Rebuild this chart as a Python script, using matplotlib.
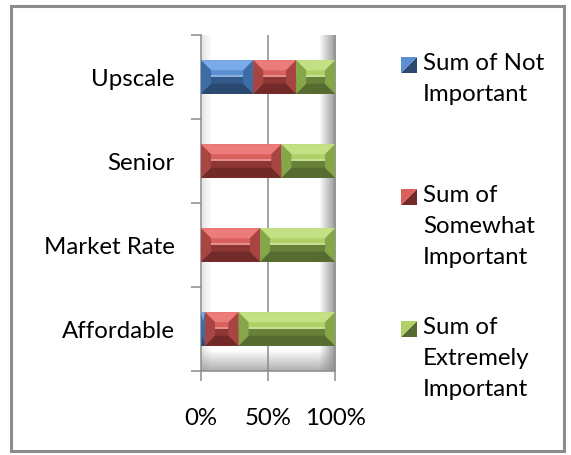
import numpy as np
import matplotlib
matplotlib.use("Agg")
import matplotlib.pyplot as plt
from matplotlib.patches import Polygon, Rectangle

# data (percent share per category)
categories = ["Affordable", "Market Rate", "Senior", "Upscale"]
not_imp = [3, 0, 0, 39]
somewhat_imp = [25, 44, 60, 32]
extremely_imp = [72, 56, 40, 29]
series_names = ["Sum of Not\nImportant",
                "Sum of\nSomewhat\nImportant",
                "Sum of\nExtremely\nImportant"]
x_ticks = [0, 50, 100]
x_ticklabels = ["0%", "50%", "100%"]

# upper face, lower face, top bevel, bottom bevel, side bevel
palette = [("#5B8FD2", "#33598A", "#7AAAE8", "#2A4870", "#3E6CA4"),
           ("#D95F5C", "#8E3634", "#EC7C7A", "#722A28", "#A84543"),
           ("#AFD066", "#67803A", "#C4E084", "#566B30", "#86A64A")]

plt.rcParams["font.family"] = ["Lato", "DejaVu Sans"]
FS = 17.3

W, H = 571, 456
fig = plt.figure(figsize=(W / 100, H / 100), dpi=100)
fig.patch.set_facecolor("white")

# outer chart border
fig.patches.append(Rectangle((11 / W, 1 - 452 / H), 553 / W, 445 / H,
                             transform=fig.transFigure, fill=False,
                             ec="#8C8C8C", lw=2.2))

ax = fig.add_axes([201 / W, 1 - 372 / H, 134 / W, 336 / H])
ax.set_xlim(0, 100)
ax.set_ylim(-0.5, 3.5)


def ramp(shape, axis, a0, a1, grey):
    # grey image whose alpha fades from a0 to a1 along one axis
    n = 64
    a = np.linspace(a0, a1, n)
    img = np.zeros((n, n, 4))
    img[..., :3] = grey
    img[..., 3] = a[None, :] if axis == 1 else a[:, None]
    return img


# 3-D plot-area shading (walls / floor)
ax.imshow(ramp(None, 1, 0.25, 0.0, 0.55), extent=(0, 8, -0.5, 3.5),
          aspect="auto", zorder=0)
ax.imshow(ramp(None, 1, 0.0, 0.75, 0.45), extent=(88, 100, -0.5, 3.5),
          aspect="auto", zorder=0)
ax.imshow(ramp(None, 0, 0.0, 0.7, 0.55), extent=(0, 100, -0.5, -0.26),
          aspect="auto", zorder=0, origin="upper")

for x in x_ticks[1:]:
    ax.axvline(x, color="#8C8C8C", lw=1.1, zorder=1)

ypos = np.arange(len(categories))
bh = 0.40
bx_full, by_full = 7.5, 0.12
left = np.zeros(len(categories))
for vals, (up, low, top, bot, side) in zip([not_imp, somewhat_imp,
                                            extremely_imp], palette):
    vals = np.array(vals, float)
    ax.barh(ypos, vals, height=bh, left=left, color=low, lw=0, zorder=2)
    for yc, l, w in zip(ypos, left, vals):
        if w <= 0:
            continue
        r = l + w
        bx = min(bx_full, w / 2)
        h = bh / 2
        by = by_full
        # upper half of the face is lit
        ax.add_patch(Rectangle((l, yc), w, h, fc=up, ec="none", zorder=2))
        polys = [
            ([(l, yc + h), (r, yc + h), (r - bx, yc + h - by), (l + bx, yc + h - by)], top),
            ([(l, yc - h), (r, yc - h), (r - bx, yc - h + by), (l + bx, yc - h + by)], bot),
            ([(l, yc - h), (l, yc + h), (l + bx, yc + h - by), (l + bx, yc - h + by)], side),
            ([(r, yc - h), (r, yc + h), (r - bx, yc + h - by), (r - bx, yc - h + by)], side),
        ]
        for pts, c in polys:
            ax.add_patch(Polygon(pts, closed=True, fc=c, ec="none", zorder=3))
        # soft highlight across the middle of the face
        ax.add_patch(Rectangle((l + bx, yc - 0.005), max(w - 2 * bx, 0), 0.03,
                               fc="white", alpha=0.3, ec="none", zorder=3))
    left += vals

for s in ["top", "right"]:
    ax.spines[s].set_visible(False)
for s in ["left", "bottom"]:
    ax.spines[s].set_color("#8C8C8C")
    ax.spines[s].set_linewidth(1.1)

ax.set_yticks(ypos)
ax.set_yticklabels(categories, fontsize=FS)
ax.set_yticks(np.arange(-0.5, 4, 1), minor=True)
ax.tick_params(axis="y", which="major", length=0, pad=19)
ax.tick_params(axis="y", which="minor", length=7, color="#8C8C8C", width=1.1)
ax.set_xticks(x_ticks)
ax.set_xticklabels(x_ticklabels, fontsize=FS)
ax.tick_params(axis="x", length=7, color="#8C8C8C", width=1.1, pad=19)

# legend laid out like the original (entries spread down the right side)
leg_y = [66, 198, 330]
for name, (up, low, top, bot, side), y in zip(series_names, palette, leg_y):
    sq = 16
    x0 = 401
    fig.patches.append(Polygon([(x0 / W, 1 - (y + sq / 2) / H),
                                ((x0 + sq) / W, 1 - (y - sq / 2) / H),
                                ((x0 + sq) / W, 1 - (y + sq / 2) / H)],
                               closed=True, transform=fig.transFigure,
                               fc=bot, ec="none"))
    fig.patches.append(Polygon([(x0 / W, 1 - (y + sq / 2) / H),
                                (x0 / W, 1 - (y - sq / 2) / H),
                                ((x0 + sq) / W, 1 - (y - sq / 2) / H)],
                               closed=True, transform=fig.transFigure,
                               fc=up, ec="none"))
    fig.text(423 / W, 1 - (y - 13) / H, name, fontsize=FS, va="top",
             ha="left", linespacing=1.6)

fig.savefig("out.png", dpi=100)
